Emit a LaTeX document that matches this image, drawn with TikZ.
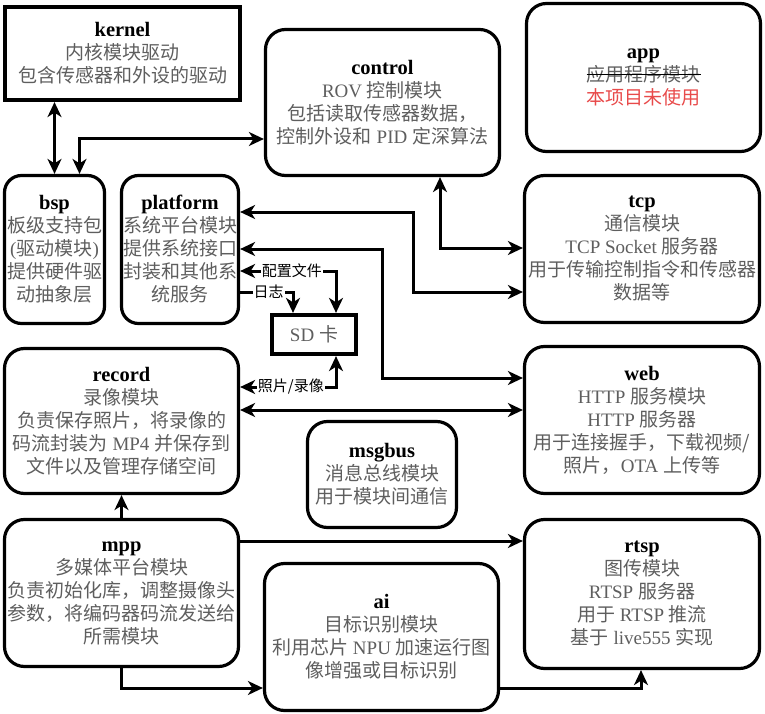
\documentclass[tikz,border=0pt]{standalone}
\usepackage{fontspec}
\setmainfont{Liberation Serif}
\newfontfamily\cjk{Noto Sans CJK SC}
\usetikzlibrary{arrows.meta}
\definecolor{txtgray}{HTML}{5E5E5E}
\definecolor{nouse}{HTML}{E84A4A}
% Chinese text in the CJK family, Latin text stays in the serif
\newcommand\zhs[1]{{\cjk #1}}
% bold black module name on the first line of a box
\newcommand\boxtitle[1]{{\fontsize{20.5}{23}\selectfont\bfseries\color{black}#1}}
% struck-out line of text
\newcommand\strikezh[1]{\setbox0=\hbox{#1}\rlap{\copy0}{\color{black}\rule[0.33em]{\wd0}{1pt}}}
\begin{document}
\begin{tikzpicture}[x=1pt,y=-1pt,
  >={Stealth[length=15pt,width=14pt,inset=4.5pt]},
  box/.style={draw, line width=3.2pt, rounded corners=20pt, align=center,
    inner sep=0pt, text=txtgray, font=\fontsize{19}{23}\selectfont},
  sq/.style={box, sharp corners, line width=4.2pt},
  conn/.style={line width=3pt},
  lbl/.style={fill=white, inner sep=1pt, text=black,
    font=\fontsize{15}{15}\selectfont\cjk}]
\useasboundingbox (0,0) rectangle (765,714);

% ---- modules ----
\node[sq, minimum width=235pt, minimum height=93pt] (kernel) at (122.5,53.5)
  {\boxtitle{kernel}\\\zhs{内核模块驱动}\\\zhs{包含传感器和外设的驱动}};
\node[box, minimum width=234pt, minimum height=146pt] (control) at (382.5,102.5)
  {\boxtitle{control}\\ROV \zhs{控制模块}\\\zhs{包括读取传感器数据，}\\\zhs{控制外设和} PID \zhs{定深算法}};
\node[box, minimum width=234pt, minimum height=148pt] (app) at (643.5,77.5)
  {\boxtitle{app}\\\strikezh{\zhs{应用程序模块}}\\\textcolor{nouse}{\zhs{本项目未使用}}};
\node[box, rounded corners=17pt, minimum width=100pt, minimum height=148pt] (bsp) at (54.5,249.5)
  {\boxtitle{bsp}\\\zhs{板级支持包}\\(\zhs{驱动模块})\\\zhs{提供硬件驱}\\\zhs{动抽象层}};
\node[box, rounded corners=17pt, minimum width=117pt, minimum height=148pt] (platform) at (180,249.5)
  {\boxtitle{platform}\\\zhs{系统平台模块}\\\zhs{提供系统接口}\\\zhs{封装和其他系}\\\zhs{统服务}};
\node[box, minimum width=235pt, minimum height=147pt] (tcp) at (642,249)
  {\boxtitle{tcp}\\\zhs{通信模块}\\TCP Socket \zhs{服务器}\\\zhs{用于传输控制指令和传感器}\\\zhs{数据等}};
\node[sq, minimum width=84pt, minimum height=39pt] (sd) at (314,334.5)
  {SD \zhs{卡}};
\node[box, minimum width=234pt, minimum height=145pt] (record) at (121.5,421)
  {\boxtitle{record}\\\zhs{录像模块}\\\zhs{负责保存照片，将录像的}\\\zhs{码流封装为} MP4 \zhs{并保存到}\\\zhs{文件以及管理存储空间}};
\node[box, minimum width=235pt, minimum height=147pt] (web) at (642,420)
  {\boxtitle{web}\\HTTP \zhs{服务模块}\\HTTP \zhs{服务器}\\\zhs{用于连接握手，下载视频/}\\\zhs{照片，}OTA \zhs{上传等}};
\node[box, minimum width=149pt, minimum height=106pt] (msgbus) at (382,474.5)
  {\boxtitle{msgbus}\\\zhs{消息总线模块}\\\zhs{用于模块间通信}};
\node[box, minimum width=234pt, minimum height=147pt] (mpp) at (121.5,593)
  {\boxtitle{mpp}\\\zhs{多媒体平台模块}\\\zhs{负责初始化库，调整摄像头}\\\zhs{参数，将编码器码流发送给}\\\zhs{所需模块}};
\node[box, minimum width=234pt, minimum height=147pt] (ai) at (381.5,637)
  {\boxtitle{ai}\\\zhs{目标识别模块}\\\zhs{利用芯片} NPU \zhs{加速运行图}\\\zhs{像增强或目标识别}};
\node[box, minimum width=235pt, minimum height=149pt] (rtsp) at (642,594)
  {\boxtitle{rtsp}\\\zhs{图传模块}\\RTSP \zhs{服务器}\\\zhs{用于} RTSP \zhs{推流}\\\zhs{基于} live555 \zhs{实现}};

% ---- connections ----
\draw[conn,<->] (bsp.north |- kernel.south) -- (bsp.north);
\draw[conn,<->] ([xshift=25pt]bsp.north) |- (control.west |- 0,139);
\draw[conn,<->] (control.south -| 440,0) |- (tcp.west |- 0,248);
\draw[conn,<->] (platform.east |- 0,212) -| (413,292) -- (tcp.west |- 0,292);
\draw[conn,<->] (platform.east |- 0,249) -| (382,378) -- (web.west |- 0,378);
\draw[conn,<->] (platform.east |- 0,271) -| ([xshift=22pt]sd.north)
  node[lbl, pos=0.27] (cfg) {配置文件};
\draw[conn,->] (platform.east |- 0,292) -| ([xshift=-21pt]sd.north)
  node[lbl, pos=0.27] (log) {日志};
\draw[conn,<->] ([xshift=22pt]sd.south) |- (record.east |- 0,387)
  node[lbl, pos=0.735] (media) {照片/录像};
\draw[conn,<->] (record.east |- 0,410) -- (web.west |- 0,410);
\draw[conn,->] (mpp.north) -- (record.south);
\draw[conn,->] (mpp.east |- 0,541) -- (rtsp.west |- 0,541);
\draw[conn,->] (mpp.south) |- (ai.west |- 0,688);
\draw[conn,->] (ai.east |- 0,688) -| (rtsp.south -| 641,0);
\end{tikzpicture}
\end{document}
